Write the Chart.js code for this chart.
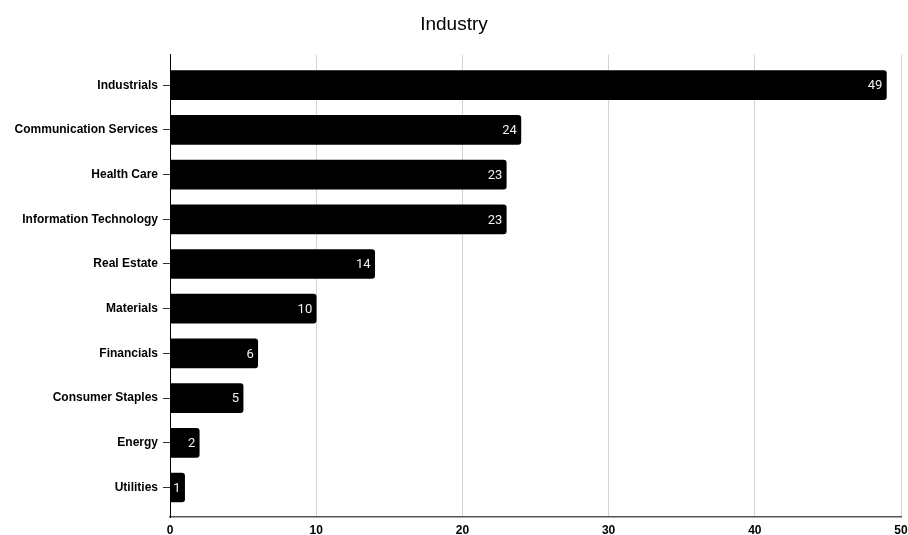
<!DOCTYPE html>
<html>
<head>
<meta charset="utf-8">
<script src="https://cdn.jsdelivr.net/npm/chart.js@4/dist/chart.umd.min.js"></script>
<style>
  html, body { margin: 0; padding: 0; background: #fff; }
  #wrap { width: 908px; height: 535px; }
</style>
</head>
<body>
<div id="wrap"><canvas id="chart" width="908" height="535"></canvas></div>
<script>
const categories = ['Industrials', 'Communication Services', 'Health Care', 'Information Technology',
  'Real Estate', 'Materials', 'Financials', 'Consumer Staples', 'Energy', 'Utilities'];
const counts = [49, 24, 23, 23, 14, 10, 6, 5, 2, 1];
const xTicks = [0, 10, 20, 30, 40, 50];

// white value labels just inside the end of each bar
const valueLabels = {
  id: 'valueLabels',
  afterDatasetsDraw(chart) {
    const ctx = chart.ctx;
    ctx.save();
    ctx.fillStyle = '#f2f2f2';
    ctx.font = '13px Roboto, sans-serif';
    ctx.textAlign = 'right';
    ctx.textBaseline = 'middle';
    chart.getDatasetMeta(0).data.forEach((bar, i) => {
      ctx.fillText(String(counts[i]), bar.x - 4, bar.y + 1);
    });
    ctx.restore();
  }
};

new Chart(document.getElementById('chart'), {
  type: 'bar',
  data: {
    datasets: [{
      data: counts.map((v, i) => ({ x: v, y: i })),
      backgroundColor: '#000',
      borderRadius: 3,
      borderSkipped: 'left',
      barThickness: 29
    }]
  },
  options: {
    indexAxis: 'y',
    responsive: false,
    animation: false,
    layout: { padding: 0 },
    plugins: {
      legend: { display: false },
      tooltip: { enabled: false },
      title: {
        display: true,
        text: 'Industry',
        color: '#000',
        font: { family: '"Liberation Sans", Arial, sans-serif', size: 19, weight: 'normal' },
        padding: { top: 13, bottom: 19 }
      }
    },
    scales: {
      x: {
        type: 'linear',
        min: 0,
        max: 50,
        afterBuildTicks: s => { s.ticks = xTicks.map(v => ({ value: v })); },
        afterFit: s => { s.height = 18; s.paddingRight = 7; s.paddingLeft = 0; },
        grid: { color: '#d3d3d3', drawTicks: false },
        border: { color: '#555', width: 1.5 },
        ticks: {
          color: '#000',
          padding: 6,
          font: { family: '"Liberation Sans", Arial, sans-serif', size: 12, weight: 'bold' }
        }
      },
      y: {
        type: 'linear',
        reverse: true,
        offset: false,
        min: -0.68,
        max: 9.66,
        afterBuildTicks: s => {
          s.ticks = categories.map((c, i) => ({ value: i }));
        },
        afterFit: s => { s.width = 170; },
        grid: { offset: false, drawOnChartArea: false, drawTicks: true, tickLength: 7, color: '#333' },
        border: { color: '#000', width: 1 },
        ticks: {
          color: '#000',
          padding: 5,
          autoSkip: false,
          callback: v => categories[v],
          font: { family: '"Liberation Sans", Arial, sans-serif', size: 12, weight: 'bold' }
        }
      }
    }
  },
  plugins: [valueLabels]
});
</script>
</body>
</html>
